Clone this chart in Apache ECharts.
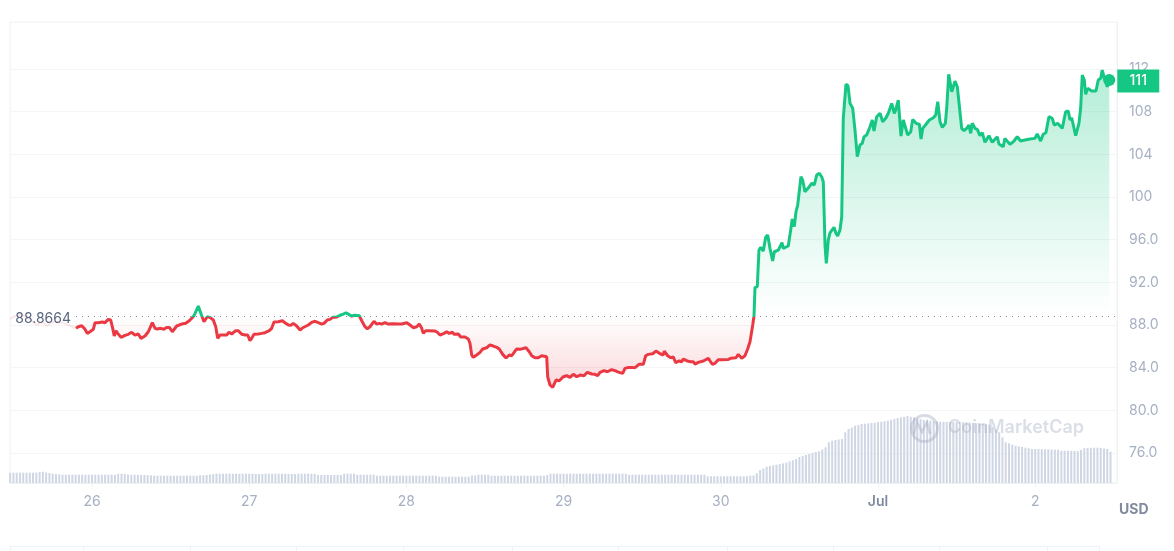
<!DOCTYPE html>
<html lang="en">
<head>
  <meta charset="UTF-8">
  <title>Price chart</title>
  <script src="https://cdn.jsdelivr.net/npm/echarts@6/dist/echarts.min.js"></script>
  <style>
    html, body { margin: 0; background: #fff; }
    #main { width: 1174px; height: 551px; }
  </style>
</head>
<body>
  <div id="main"></div>
  <script>
    // Hours are counted from midnight on the 26th
    const tickHours = [0, 24, 48, 72, 96, 120, 144];
    const tickLabels = ['26', '27', '28', '29', '30', 'Jul', '2'];
    const priceTicks = [76, 80, 84, 88, 92, 96, 100, 104, 108, 112];
    const priceTickLabels = ['76.0', '80.0', '84.0', '88.0', '92.0', '96.0', '100', '104', '108', '112'];
    const basePrice = 88.8664;
    const lastLabel = '111';

    // Faded start of the line, behind the base price label
    const fadeHours = [-12.52, -12.01, -10.99, -9.92, -8.40, -7.63, -6.87, -5.95, -4.43, -2.44];
    const fadePrices = [88.56, 88.78, 88.94, 88.75, 88.00, 88.31, 87.91, 88.31, 88.22, 87.69];

    const hours = [
      -2.44, -2.09, -1.57, -1.18, -0.72, -0.31, 0.20, 0.46, 0.96, 1.22,
      1.57, 1.98, 2.49, 2.85, 3.16, 3.40, 3.66, 3.92, 4.43, 5.04,
      5.54, 6.06, 6.56, 7.07, 7.48, 8.09, 8.60, 9.21, 9.62, 9.97,
      10.49, 10.99, 11.40, 11.80, 12.26, 12.93, 13.69, 14.31, 14.85, 15.22,
      15.57, 16.23, 16.75, 17.10, 17.60, 18.01, 18.52, 18.89, 19.19, 19.54,
      20.05, 20.56, 20.92, 21.33, 21.94, 22.34, 22.86, 23.36, 23.77, 24.12,
      24.38, 24.73, 25.39, 25.91, 26.41, 27.07, 27.43, 27.79, 28.44, 29.05,
      29.46, 29.97, 30.34, 30.73, 31.25, 31.76, 32.11, 32.41, 33.02, 33.54,
      34.05, 34.55, 35.07, 35.42, 35.92, 36.34, 36.75, 37.10, 37.45, 37.97,
      38.37, 38.78, 39.19, 39.65, 40.15, 40.81, 41.18, 41.68, 42.03, 42.44,
      43.05, 43.47, 43.86, 44.23, 44.73, 45.24, 46.00, 46.76, 47.28, 48.05,
      48.55, 49.05, 49.57, 49.97, 50.34, 50.58, 50.95, 51.34, 51.60, 52.37,
      52.72, 53.13, 53.74, 54.15, 54.55, 55.01, 55.27, 55.92, 56.29, 56.94,
      57.45, 57.71, 57.97, 58.21, 58.73, 59.24, 59.65, 60.26, 60.76, 61.27,
      61.79, 62.18, 62.70, 63.21, 63.71, 64.08, 64.58, 64.84, 65.34, 66.26,
      66.76, 67.13, 67.63, 68.14, 68.65, 69.42, 69.57, 69.92, 70.33, 70.84,
      71.34, 71.95, 72.47, 72.97, 73.48, 74.00, 74.50, 75.11, 75.62, 76.29,
      76.79, 77.20, 77.56, 78.17, 78.67, 79.34, 79.85, 80.35, 81.02, 81.37,
      81.88, 82.40, 82.90, 83.51, 84.17, 84.53, 84.93, 85.60, 86.10, 86.61,
      87.22, 87.37, 87.89, 88.35, 88.75, 89.11, 89.66, 90.03, 90.27, 90.88,
      91.40, 91.80, 92.06, 92.56, 92.82, 93.33, 94.09, 94.70, 95.11, 95.62,
      96.14, 97.14, 97.51, 98.32, 98.67, 99.19, 99.69, 100.10, 100.46, 100.71,
      100.87, 101.07, 101.22, 101.57, 101.83, 102.09, 102.49, 102.85, 103.16, 103.51,
      103.92, 104.17, 104.78, 105.04, 105.34, 105.54, 105.80, 106.30, 106.67, 106.91,
      107.22, 107.48, 107.74, 107.98, 108.24, 108.50, 108.85, 109.11, 109.51, 109.87,
      110.27, 110.64, 111.04, 111.40, 111.65, 111.91, 112.11, 112.41, 112.67, 112.93,
      113.28, 113.58, 113.84, 114.20, 114.46, 114.70, 115.11, 115.42, 115.73, 116.14,
      116.49, 116.84, 117.25, 117.60, 117.86, 118.27, 118.78, 119.13, 119.39, 119.80,
      120.05, 120.31, 120.72, 121.18, 121.58, 121.83, 122.09, 122.49, 122.70, 123.10,
      123.51, 123.86, 124.54, 125.00, 125.30, 125.81, 126.31, 126.57, 126.83, 127.33,
      127.84, 128.45, 128.81, 129.12, 129.47, 129.82, 130.28, 130.49, 130.80, 131.26,
      131.76, 132.11, 132.41, 132.78, 133.13, 133.54, 133.89, 134.15, 134.39, 134.81,
      135.16, 135.57, 135.92, 136.33, 136.94, 137.44, 138.21, 138.47, 139.12, 139.38,
      140.15, 140.76, 141.26, 141.78, 142.44, 143.20, 143.96, 144.31, 144.83, 145.23,
      145.64, 146.10, 146.60, 146.91, 147.43, 148.13, 148.65, 149.05, 149.31, 149.57,
      150.18, 150.68, 150.94, 151.19, 151.49, 151.71, 152.01, 152.62, 153.28, 153.63,
      154.00, 154.24, 154.55, 155.00, 155.31
    ];

    const prices = [
      87.69, 87.84, 87.93, 87.69, 87.22, 87.37, 87.60, 88.22, 88.22, 88.16,
      88.28, 88.22, 88.53, 88.47, 87.69, 86.97, 87.47, 87.22, 86.85, 87.03,
      87.13, 87.32, 87.06, 87.16, 86.75, 86.97, 87.37, 88.22, 87.69, 87.63,
      87.69, 87.60, 87.78, 87.78, 87.37, 87.91, 88.09, 88.16, 88.40, 88.63,
      88.87, 89.78, 88.87, 88.31, 88.78, 88.72, 88.47, 87.84, 86.75, 87.06,
      87.06, 87.06, 87.32, 87.16, 87.47, 87.47, 87.13, 87.06, 87.06, 86.53,
      86.75, 87.13, 87.16, 87.22, 87.28, 87.47, 87.69, 88.28, 88.31, 88.40,
      88.22, 88.00, 87.97, 88.16, 87.91, 87.53, 87.72, 87.60, 88.00, 88.25,
      88.35, 88.22, 88.09, 88.16, 88.47, 88.53, 88.72, 88.72, 88.78, 88.94,
      89.03, 89.15, 89.00, 88.84, 88.91, 88.87, 88.40, 87.84, 87.65, 87.84,
      88.35, 88.09, 88.16, 88.09, 88.22, 88.09, 88.12, 88.09, 88.09, 88.22,
      88.00, 87.75, 87.84, 88.09, 87.69, 87.22, 87.47, 87.47, 87.34, 87.44,
      87.32, 87.06, 87.22, 87.37, 87.22, 87.32, 87.13, 87.16, 86.88, 86.88,
      86.69, 86.28, 85.19, 84.97, 85.19, 85.44, 85.75, 85.87, 86.13, 86.03,
      85.91, 85.75, 85.25, 84.91, 85.19, 85.12, 85.56, 85.75, 85.72, 85.87,
      85.50, 85.12, 84.93, 84.93, 85.12, 85.03, 83.15, 82.38, 82.16, 82.84,
      82.78, 83.15, 83.25, 83.10, 83.38, 83.15, 83.31, 83.25, 83.57, 83.41,
      83.38, 83.25, 83.57, 83.72, 83.62, 83.81, 83.72, 83.59, 83.47, 83.94,
      84.03, 84.03, 84.00, 84.32, 84.32, 85.12, 85.25, 85.31, 85.56, 85.35,
      85.19, 85.56, 85.12, 84.93, 85.00, 84.47, 84.63, 84.56, 84.81, 84.63,
      84.56, 84.56, 84.34, 84.50, 84.65, 84.63, 84.88, 84.32, 84.41, 84.75,
      84.75, 84.78, 84.88, 84.93, 85.25, 84.88, 85.12, 85.75, 86.43, 87.37,
      88.00, 88.84, 91.53, 91.59, 95.03, 95.28, 94.94, 96.22, 96.44, 95.19,
      94.00, 94.87, 95.03, 95.19, 95.72, 95.19, 95.28, 95.41, 96.91, 97.94,
      97.22, 98.62, 99.25, 99.41, 101.90, 101.59, 100.50, 100.50, 100.97, 101.28,
      101.13, 102.06, 102.22, 101.90, 101.43, 95.50, 93.78, 95.97, 96.65, 96.53,
      97.16, 96.60, 96.34, 96.91, 98.15, 107.38, 110.57, 110.43, 108.78, 108.32,
      106.28, 103.78, 104.88, 105.03, 105.65, 105.81, 106.59, 107.22, 106.19, 107.53,
      107.38, 107.85, 107.06, 107.38, 107.85, 107.69, 108.78, 107.85, 108.16, 109.09,
      105.72, 107.22, 105.81, 106.12, 107.28, 106.91, 106.82, 105.44, 106.44, 106.82,
      107.22, 107.43, 107.69, 108.93, 107.06, 106.53, 106.91, 108.32, 111.50, 109.87,
      110.87, 110.34, 110.34, 106.44, 106.22, 106.44, 106.75, 105.97, 106.91, 106.44,
      106.35, 105.75, 106.03, 105.13, 105.75, 105.13, 105.65, 104.97, 104.72, 105.50,
      104.94, 105.25, 105.65, 105.25, 105.34, 105.44, 105.50, 105.91, 105.25, 105.88,
      106.03, 107.53, 107.38, 106.75, 106.91, 106.44, 108.00, 108.06, 107.22, 107.43,
      105.75, 106.91, 108.32, 111.44, 110.97, 109.63, 110.19, 109.94, 109.94, 110.97,
      111.13, 111.91, 111.13, 110.34, 110.97
    ];

    // Relative volume, one bar every half hour from the left edge
    const volumeStart = -12.5;
    const volumeStep = 0.5;
    const volumes = [
      10.3, 10.3, 10.3, 10.3, 10.3, 10.3, 10.3, 10.3, 10.3, 11, 11.3, 10.5, 10, 9.3, 9, 8.7,
      8.3, 8.3, 8.3, 8.3, 8.3, 8.3, 8.3, 8.3, 8.3, 8.3, 8.3, 8.3, 8.3, 8.3, 8.3, 8.3, 8.3,
      9.3, 9.3, 9, 8.6, 8.3, 8.3, 8.2, 8, 8, 7.8, 7.6, 7.5,
      7.3, 7.3, 7.3, 7.3, 7.3, 7.3, 7.3, 7.3, 7.3, 7.3, 7.3, 7.3, 7.3,
      7.7, 7.7, 8, 8.5, 9,
      9.3, 9.3, 9.3, 9.3, 9.3, 9.3, 9.3, 9.3, 9.3, 9.3, 9.3, 9.3, 9, 9, 9, 9.3,
      9.3, 9.3, 9.3, 9.3, 9.3, 9.3, 9, 9, 9, 9.3, 9.3, 9.3, 9.3, 9.3, 9.3,
      8, 8, 8, 8, 8, 8, 8, 8, 9.3, 9.3, 9.3, 9.3, 8.3, 8.3, 8.3, 8.3, 8.3, 8.3,
      7.3, 7.3, 7.3, 7.3, 7.3, 7.3, 7.3, 7.3, 7.3, 7.3, 7.3, 7.3, 7.3, 7.3, 7.3, 7.3, 7.3, 7.3, 7.3,
      6.3, 6.3, 6.3, 6.3, 6.3, 6.3, 6.3, 6.3, 6.3, 6.3, 7.5, 7.5, 8.3, 8.3, 8.3, 8.3,
      7.3, 7.3, 7.3, 7.3, 7.3, 7.3, 7.3, 7.3, 7.3, 7.3, 7.3, 7.3, 7.3, 7.3, 7.3, 7.3, 7.3, 8,
      9.3, 9.3, 9.3, 9.3, 9.3, 9.3, 9.3, 9.3, 9.3, 9.3, 9.3, 9.3, 9.3, 9.3, 9.3, 9.3, 9.3, 9.3, 9.3, 9.3, 9.3, 9.3, 9.3, 9.3,
      8.3, 8.3, 8.3, 8.3, 8.3, 8.3, 8.3, 8.3, 8.3, 8.3, 8.3, 8.3, 8.3, 8.3, 8.3, 8.3, 8.3, 8.3, 8.3, 8.3, 8.3, 8.3, 8.3, 8.3,
      6.7, 6.7, 6.7, 6.7, 6.7, 6.7, 6.7, 6.7, 6.7, 6.7, 6.7, 6.7, 6.7,
      7.3, 7.5, 9.7, 13, 14.5, 16.3, 17, 17.7, 18.3, 19, 19.6, 20.3, 21.5, 22.7, 24, 26, 27, 28, 29, 30, 31, 31.7,
      33.5, 35.7, 40.7, 42.3, 43, 43.5, 44, 50.7, 54, 55.5, 57.3, 58, 59, 59.3, 59.6, 60, 60.3, 60.8, 61.3, 61.8,
      62.3, 63.2, 64, 65, 65.7, 66.3, 67, 66.3, 65.7, 64.8, 63.9, 63, 62.6, 62.3, 62, 61.6, 61.3, 61.2, 61.1, 61,
      61, 60.9, 60.8, 60.8, 60.7, 60.4, 60, 59.7, 59.3, 59, 58.7, 58.3, 55.8, 53.2, 50.7, 45.7, 40.7, 39.6, 38.4,
      37.3, 36.6, 36, 35.3, 34.7, 34, 34, 33.9, 33.8, 33.7, 33.6, 33.5, 33.4, 33.3, 32.3, 32.3, 32.2, 32.1, 32,
      31.7, 33, 34.7, 35, 35.2, 35.3, 35.3, 35, 34.5, 34, 31.3
    ];

    const red = '#ea3943';
    const green = '#16c784';
    const edge = '#eff2f5';

    const priceData = hours.map((h, i) => [h, prices[i]]);
    const fadeData = fadeHours.map((h, i) => [h, fadePrices[i]]);
    const volumeData = volumes.map((v, i) => [volumeStart + i * volumeStep, v]);
    const lastPoint = priceData[priceData.length - 1];

    // Line and area split at the base price, green above and red below
    const highest = Math.max(...prices);
    const lowest = Math.min(...prices);
    const baseStop = (highest - basePrice) / (highest - lowest);

    const myChart = echarts.init(document.getElementById('main'));
    myChart.setOption({
      animation: false,
      textStyle: { fontFamily: 'Inter' },
      grid: { left: 10, right: 57, top: 22, bottom: 68, show: true, borderColor: edge, borderWidth: 1 },
      xAxis: {
        type: 'value',
        min: -12.52,
        max: 156.49,
        axisLine: { onZero: false, lineStyle: { color: edge, width: 1 } },
        axisTick: { show: true, length: 4, lineStyle: { color: edge }, customValues: tickHours },
        splitLine: { show: false },
        axisLabel: {
          customValues: tickHours,
          margin: 12,
          fontSize: 14,
          color: '#a6b0c3',
          formatter: v => {
            const label = tickLabels[tickHours.indexOf(v)];
            return label === 'Jul' ? '{month|Jul}' : label;
          },
          rich: { month: { fontSize: 14, fontWeight: 600, color: '#808a9d', fontFamily: 'Inter' } }
        }
      },
      yAxis: [
        {
          type: 'value',
          position: 'right',
          min: 73.19,
          max: 116.41,
          axisLine: { show: true, onZero: false, lineStyle: { color: edge } },
          axisTick: { show: false, customValues: priceTicks },
          splitLine: { show: true, lineStyle: { color: '#f3f5f8', width: 1 } },
          axisLabel: {
            customValues: priceTicks,
            margin: 12,
            fontSize: 14,
            color: '#a6b0c3',
            padding: [0, 0, 3, 0],
            formatter: v => priceTickLabels[priceTicks.indexOf(v)]
          }
        },
        { type: 'value', min: 0, max: 461, show: false, splitLine: { show: false } }
      ],
      series: [
        {
          type: 'bar',
          yAxisIndex: 1,
          data: volumeData,
          barWidth: 2,
          silent: true,
          itemStyle: { color: '#cfd6e4' }
        },
        {
          type: 'line',
          data: fadeData,
          showSymbol: false,
          silent: true,
          lineStyle: { color: 'rgba(234,57,67,0.12)', width: 2 }
        },
        {
          type: 'line',
          data: priceData,
          showSymbol: false,
          silent: true,
          z: 3,
          lineStyle: {
            width: 3,
            color: new echarts.graphic.LinearGradient(0, 0, 0, 1, [
              { offset: 0, color: green },
              { offset: baseStop, color: green },
              { offset: baseStop, color: red },
              { offset: 1, color: red }
            ])
          },
          areaStyle: {
            origin: basePrice,
            opacity: 1,
            color: new echarts.graphic.LinearGradient(0, 0, 0, 1, [
              { offset: 0, color: 'rgba(22,199,132,0.32)' },
              { offset: baseStop, color: 'rgba(22,199,132,0)' },
              { offset: baseStop, color: 'rgba(234,57,67,0)' },
              { offset: 1, color: 'rgba(234,57,67,0.2)' }
            ])
          },
          markLine: {
            silent: true,
            symbol: 'none',
            lineStyle: { color: '#808a9d', type: [1, 5], width: 1 },
            label: {
              position: 'start',
              distance: 5,
              offset: [0, 3],
              fontSize: 14,
              color: '#58667e',
              formatter: String(basePrice)
            },
            data: [[{ coord: [hours[0], basePrice] }, { coord: [156.49, basePrice] }]]
          },
          markPoint: {
            silent: true,
            data: [
              {
                coord: lastPoint,
                symbol: 'circle',
                symbolSize: 12,
                itemStyle: { color: green },
                label: { show: false }
              },
              {
                coord: lastPoint,
                symbol: 'rect',
                symbolSize: [42, 23],
                symbolOffset: [29, 1],
                itemStyle: { color: green },
                label: { show: true, formatter: lastLabel, color: '#fff', fontSize: 14, fontWeight: 500 }
              }
            ]
          }
        }
      ],
      graphic: [
        // Watermark
        {
          type: 'circle', left: 909, top: 413, silent: true, z: 10,
          shape: { r: 13 },
          style: { fill: 'none', stroke: 'rgba(166,176,195,0.45)', lineWidth: 3 }
        },
        {
          type: 'polyline', silent: true, z: 10,
          shape: { points: [[914, 434], [917, 422], [922, 432], [927, 422], [930, 434]] },
          style: { fill: 'none', stroke: 'rgba(166,176,195,0.45)', lineWidth: 2.5 }
        },
        {
          type: 'text', left: 948, top: 419, silent: true, z: 10,
          style: { text: 'CoinMarketCap', fill: 'rgba(166,176,195,0.42)', font: '600 18px Inter' }
        },
        {
          type: 'text', left: 1119, top: 503, silent: true,
          style: { text: 'USD', fill: '#808a9d', font: '700 14px Inter' }
        },
        // Strip along the bottom edge
        { type: 'line', silent: true, shape: { x1: 10, y1: 546.5, x2: 1099, y2: 546.5 }, style: { stroke: edge } },
        ...[10, 83, 190, 296, 403, 512, 618, 727, 833, 939, 1047, 1099].map(x => ({
          type: 'line', silent: true,
          shape: { x1: x + 0.5, y1: 546, x2: x + 0.5, y2: 551 },
          style: { stroke: edge }
        }))
      ]
    });
  </script>
</body>
</html>
